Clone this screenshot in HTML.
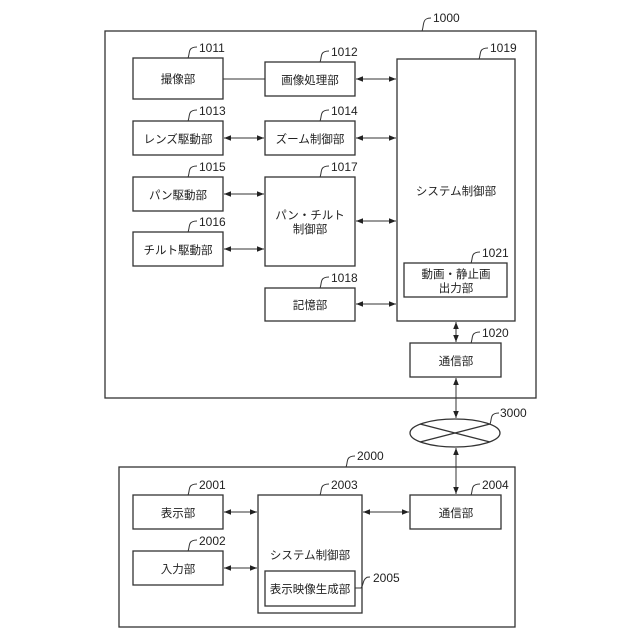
<!DOCTYPE html>
<html><head><meta charset="utf-8"><style>
html,body{margin:0;padding:0;background:#fff}
svg{display:block}
text{font-family:"Liberation Sans","Noto Sans CJK JP",sans-serif;fill:#222}
.j{font-size:11.5px;text-anchor:middle}
.n{font-size:12px}
</style></head><body>
<svg width="640" height="640" viewBox="0 0 640 640" xmlns="http://www.w3.org/2000/svg">
<defs>
<marker id="a" viewBox="0 0 10 10" refX="10" refY="5" markerWidth="7" markerHeight="7" orient="auto-start-reverse" markerUnits="userSpaceOnUse"><path d="M0,1 L10,5 L0,9 z" fill="#222"/></marker>
</defs>
<g fill="none" stroke="#333" stroke-width="1.3">
<rect x="105" y="31" width="431" height="367"/>
<rect x="133" y="58" width="90" height="41"/>
<rect x="265" y="62" width="90" height="34"/>
<rect x="397" y="59" width="118" height="262"/>
<rect x="133" y="121" width="90" height="34"/>
<rect x="265" y="121" width="90" height="34"/>
<rect x="133" y="177" width="90" height="34"/>
<rect x="265" y="177" width="90" height="89"/>
<rect x="133" y="232" width="90" height="34"/>
<rect x="404" y="263" width="103" height="34"/>
<rect x="265" y="288" width="90" height="33"/>
<rect x="410" y="343" width="91" height="34"/>
<ellipse cx="455" cy="433" rx="45" ry="14"/>
<line x1="420" y1="424" x2="490" y2="442"/>
<line x1="420" y1="442" x2="490" y2="424"/>
<rect x="119" y="467" width="396" height="160"/>
<rect x="133" y="495" width="90" height="34"/>
<rect x="133" y="551" width="90" height="34"/>
<rect x="258" y="495" width="104" height="118"/>
<rect x="265" y="571" width="90" height="35"/>
<rect x="410" y="495" width="91" height="34"/>
</g>
<g stroke="#333" stroke-width="1" fill="none">
<line x1="223" y1="79" x2="265" y2="79"/>
<line x1="356" y1="79" x2="396" y2="79" marker-start="url(#a)" marker-end="url(#a)"/>
<line x1="224" y1="138" x2="264" y2="138" marker-start="url(#a)" marker-end="url(#a)"/>
<line x1="356" y1="138" x2="396" y2="138" marker-start="url(#a)" marker-end="url(#a)"/>
<line x1="224" y1="194" x2="264" y2="194" marker-start="url(#a)" marker-end="url(#a)"/>
<line x1="224" y1="249" x2="264" y2="249" marker-start="url(#a)" marker-end="url(#a)"/>
<line x1="356" y1="221" x2="396" y2="221" marker-start="url(#a)" marker-end="url(#a)"/>
<line x1="356" y1="304" x2="396" y2="304" marker-start="url(#a)" marker-end="url(#a)"/>
<line x1="456" y1="322" x2="456" y2="342" marker-start="url(#a)" marker-end="url(#a)"/>
<line x1="456" y1="378" x2="456" y2="418" marker-start="url(#a)" marker-end="url(#a)"/>
<line x1="456" y1="448" x2="456" y2="494" marker-start="url(#a)" marker-end="url(#a)"/>
<line x1="224" y1="512" x2="257" y2="512" marker-start="url(#a)" marker-end="url(#a)"/>
<line x1="224" y1="568" x2="257" y2="568" marker-start="url(#a)" marker-end="url(#a)"/>
<line x1="363" y1="512" x2="409" y2="512" marker-start="url(#a)" marker-end="url(#a)"/>
<!-- leaders -->
<path d="M422,31 c1,-2 1,-6 2,-9 s3,-4 7,-4"/>
<path d="M188,58 c1,-2 1,-6 2,-8 s3,-3 7,-3"/>
<path d="M320,62 c1,-2 1,-6 2,-8 s3,-3 7,-3"/>
<path d="M479,59 c1,-2 1,-6 2,-8 s3,-3 7,-3"/>
<path d="M188,121 c1,-2 1,-6 2,-8 s3,-3 7,-3"/>
<path d="M320,121 c1,-2 1,-6 2,-8 s3,-3 7,-3"/>
<path d="M188,177 c1,-2 1,-6 2,-8 s3,-3 7,-3"/>
<path d="M320,177 c1,-2 1,-6 2,-8 s3,-3 7,-3"/>
<path d="M188,232 c1,-2 1,-6 2,-8 s3,-3 7,-3"/>
<path d="M471,263 c1,-2 1,-6 2,-8 s3,-3 7,-3"/>
<path d="M320,288 c1,-2 1,-6 2,-8 s3,-3 7,-3"/>
<path d="M471,343 c1,-2 1,-6 2,-8 s3,-3 7,-3"/>
<path d="M490,424 c1,-2 1,-6 2,-8 s3,-3 7,-3"/>
<path d="M346,467 c1,-2 1,-6 2,-8 s3,-3 7,-3"/>
<path d="M188,495 c1,-2 1,-6 2,-8 s3,-3 7,-3"/>
<path d="M320,495 c1,-2 1,-6 2,-8 s3,-3 7,-3"/>
<path d="M471,495 c1,-2 1,-6 2,-8 s3,-3 7,-3"/>
<path d="M188,551 c1,-2 1,-6 2,-8 s3,-3 7,-3"/>
<path d="M355,588 h6 c2,-2 2,-7 4,-9 s2,-2 5,-2"/>
</g>
<g class="n">
<text x="433" y="22">1000</text>
<text x="199" y="52">1011</text>
<text x="331" y="56">1012</text>
<text x="490" y="52">1019</text>
<text x="199" y="115">1013</text>
<text x="331" y="115">1014</text>
<text x="199" y="171">1015</text>
<text x="331" y="171">1017</text>
<text x="199" y="226">1016</text>
<text x="482" y="257">1021</text>
<text x="331" y="282">1018</text>
<text x="482" y="337">1020</text>
<text x="500" y="417">3000</text>
<text x="357" y="460">2000</text>
<text x="199" y="489">2001</text>
<text x="331" y="489">2003</text>
<text x="482" y="489">2004</text>
<text x="199" y="545">2002</text>
<text x="373" y="582">2005</text>
</g>
<g class="j">
<text x="178" y="83">撮像部</text>
<text x="310" y="84">画像処理部</text>
<text x="178" y="143">レンズ駆動部</text>
<text x="310" y="143">ズーム制御部</text>
<text x="178" y="199">パン駆動部</text>
<text x="178" y="254">チルト駆動部</text>
<text x="310" y="219">パン・チルト</text>
<text x="310" y="233">制御部</text>
<text x="456" y="195">システム制御部</text>
<text x="456" y="278">動画・静止画</text>
<text x="456" y="292">出力部</text>
<text x="310" y="309">記憶部</text>
<text x="456" y="365">通信部</text>
<text x="178" y="517">表示部</text>
<text x="178" y="573">入力部</text>
<text x="310" y="559">システム制御部</text>
<text x="310" y="593">表示映像生成部</text>
<text x="456" y="517">通信部</text>
</g>
</svg>
</body></html>
